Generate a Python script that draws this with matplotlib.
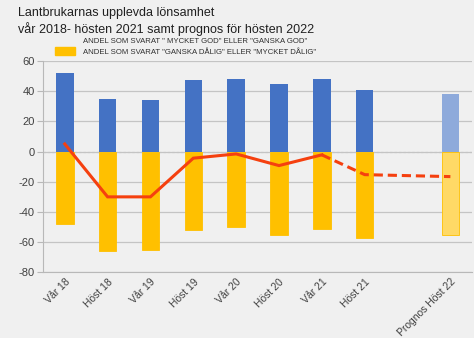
import matplotlib
matplotlib.use("Agg")
import matplotlib.pyplot as plt
from matplotlib.patches import Patch
import numpy as np

categories = ["Vår 18", "Höst 18", "Vår 19", "Höst 19", "Vår 20", "Höst 20",
              "Vår 21", "Höst 21", "", "Prognos Höst 22"]
good = [52, 35, 34, 47, 48, 45, 48, 41, None, 38]
bad = [-48, -66, -65, -52, -50, -55, -51, -57, None, -55]
net = [5, -30, -30, -4.4, -1.6, -9.3, -2.2, -15.3, None, -16.6]
legend_labels = ['ANDEL SOM SVARAT " MYCKET GOD" ELLER "GANSKA GOD"',
                 'ANDEL SOM SVARAT "GANSKA DÅLIG" ELLER "MYCKET DÅLIG"']
title = "Lantbrukarnas upplevda lönsamhet\nvår 2018- hösten 2021 samt prognos för hösten 2022"

BG = "#f0f0f0"
BLUE, BLUE_L = "#4472c4", "#8eaadb"
YEL, YEL_L = "#ffc000", "#ffd966"
RED = "#f5400f"

plt.rcParams['font.family'] = ['Liberation Sans', 'DejaVu Sans']
plt.rcParams['axes.unicode_minus'] = False

fig = plt.figure(figsize=(4.74, 3.38), dpi=100, facecolor=BG)
ax = fig.add_axes([0.0914, 0.194, 0.904, 0.626], facecolor=BG)

x = np.arange(len(categories))
w = 0.41
forecast = len(categories) - 1
for i in range(len(categories)):
    if good[i] is None:
        continue
    fc_b = BLUE_L if i == forecast else BLUE
    fc_y = YEL_L if i == forecast else YEL
    ax.bar(x[i], good[i], width=w, color=fc_b, zorder=2)
    ax.bar(x[i], bad[i], width=w, color=fc_y, zorder=2,
           edgecolor=YEL if i == forecast else fc_y, linewidth=0.6)

solid_idx = list(range(0, 7))
ax.plot(x[solid_idx], [net[i] for i in solid_idx], color=RED, lw=2.2,
        zorder=3, solid_joinstyle='miter')
dash_idx = [6, 7, 9]
ax.plot(x[dash_idx], [net[i] for i in dash_idx], color=RED, lw=2.2,
        ls=(0, (3, 1.6)), zorder=3)

ax.set_xlim(-0.5, len(categories) - 0.5)
ax.set_ylim(-80, 60)
ax.set_yticks(np.arange(-80, 61, 20))
ax.yaxis.grid(True, color="#c4c4c4", lw=0.9, zorder=0)
ax.axhline(0, color="#a8a8a8", lw=0.8, ls=(0, (2, 2)), zorder=1)
for s in ["top", "right"]:
    ax.spines[s].set_visible(False)
ax.spines["left"].set_color("#b8b8b8")
ax.spines["bottom"].set_color("#b8b8b8")
ax.tick_params(axis='y', length=4, color="#b8b8b8", labelsize=8, labelcolor="#404040", pad=2)
ax.tick_params(axis='x', length=0, labelsize=7.5, labelcolor="#404040", pad=3)
ax.set_xticks(x)
ax.set_xticklabels(categories, rotation=45, ha='right', rotation_mode='anchor')

fig.text(0.038, 0.978, title, fontsize=9, color="#202020", va='top', ha='left',
         linespacing=1.2)

handles = [Patch(facecolor='none', edgecolor='none'), Patch(facecolor=YEL, edgecolor=YEL)]
fig.legend(handles, legend_labels, loc='upper left', bbox_to_anchor=(0.108, 0.905),
           frameon=False, prop={'size': 5.6},
           handlelength=2.6, handleheight=1.2,
           handletextpad=1.0, labelspacing=0.3, borderpad=0, labelcolor="#303030")

fig.savefig("out.png", dpi=100, facecolor=BG)
